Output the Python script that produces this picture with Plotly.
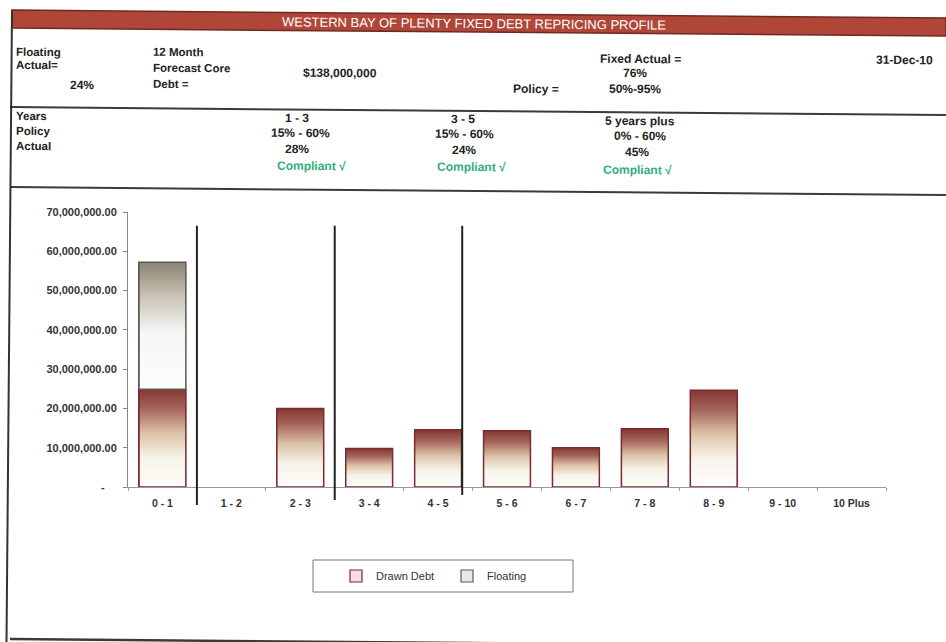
import plotly.graph_objects as go

# ---------------- data ----------------
CATEGORIES = ["0 - 1", "1 - 2", "2 - 3", "3 - 4", "4 - 5", "5 - 6",
              "6 - 7", "7 - 8", "8 - 9", "9 - 10", "10 Plus"]
DRAWN_DEBT = [24.9e6, 0, 20.0e6, 9.8e6, 14.6e6, 14.3e6, 10.0e6, 14.8e6, 24.6e6, 0, 0]
FLOATING = [32.3e6, 0, 0, 0, 0, 0, 0, 0, 0, 0, 0]
Y_TICKS = [0, 10e6, 20e6, 30e6, 40e6, 50e6, 60e6, 70e6]
Y_TICK_LABELS = ["-\u00a0\u00a0\u00a0\u00a0", "10,000,000.00", "20,000,000.00", "30,000,000.00",
                 "40,000,000.00", "50,000,000.00", "60,000,000.00", "70,000,000.00"]
# boundaries of the policy year bands (0-1 | 1-3 | 3-5 | 5+), drawn by hand on the sheet
BAND_BOUNDARIES = [0.5, 2.5, 4.35]
BAND_LINE_TOP = 66.5e6

TITLE = "WESTERN BAY OF PLENTY FIXED DEBT REPRICING PROFILE"
SERIES_NAMES = ["Drawn Debt", "Floating"]

# ---------------- geometry ----------------
W, H = 946, 642
ML, MR, MT, MB = 128, 60, 212, 155
PW, PH = W - ML - MR, H - MT - MB
BAR_W = 0.68
TILT = 0.0085

def xp(px):
    return (px - ML) / PW

def yp(py):
    return (H - MB - py) / PH

idx = list(range(len(CATEGORIES)))
X_RANGE = [-0.5, len(CATEGORIES) - 0.5]
Y_RANGE = [0, 70e6]

DRAWN_SCALE = [[0.0, "#fdfdfb"], [0.3, "#f6f3e8"], [0.55, "#dcc2a8"],
               [0.8, "#a5645a"], [1.0, "#823830"]]
FLOAT_SCALE = [[0.0, "#fdfdfd"], [0.45, "#f3f7f6"], [0.72, "#cbc6b6"], [1.0, "#8a8474"]]
DRAWN_LINE = "#7a2a33"
FLOAT_LINE = "#5f5a55"

def nz(vals):
    return [v if v else None for v in vals]

fig = go.Figure()

# legend / data bars (hidden underneath gradient fills)
fig.add_trace(go.Bar(x=idx, y=nz(DRAWN_DEBT), name=SERIES_NAMES[0], width=BAR_W,
                     marker=dict(color="#f2dede", line=dict(color=DRAWN_LINE, width=1.2))))
fig.add_trace(go.Bar(x=idx, y=nz(FLOATING), name=SERIES_NAMES[1], width=BAR_W,
                     marker=dict(color="#e8e8e4", line=dict(color=FLOAT_LINE, width=1.2))))

# gradient-filled bar bodies
for i in idx:
    segs = [(0, DRAWN_DEBT[i], DRAWN_SCALE, DRAWN_LINE),
            (DRAWN_DEBT[i], DRAWN_DEBT[i] + FLOATING[i], FLOAT_SCALE, FLOAT_LINE)]
    for base, top, scale, lc in segs:
        if top - base <= 0:
            continue
        x0, x1 = i - BAR_W / 2, i + BAR_W / 2
        fig.add_trace(go.Scatter(
            x=[x0, x1, x1, x0, x0], y=[base, base, top, top, base],
            mode="lines", fill="toself",
            fillgradient=dict(type="vertical", colorscale=scale, start=base, stop=top),
            line=dict(color=lc, width=1.5), showlegend=False, hoverinfo="skip"))

shapes = []
# band separator lines
for k, b in enumerate(BAND_BOUNDARIES):
    xb = (b - X_RANGE[0]) / (X_RANGE[1] - X_RANGE[0])
    shapes.append(dict(type="line", xref="paper", yref="paper",
                       x0=xb, x1=xb, y0=BAND_LINE_TOP / Y_RANGE[1], y1=yp(505 - 5 * k),
                       line=dict(color="#222", width=2)))

def tl(x, y0):
    return y0 + TILT * x

# header band
hx0, hx1 = 12, 946
path = "M {},{} L {},{} L {},{} L {},{} Z".format(
    xp(hx0), yp(tl(hx0, 10)), xp(hx1), yp(tl(hx1, 10)),
    xp(hx1), yp(tl(hx1, 28)), xp(hx0), yp(tl(hx0, 28)))
shapes.append(dict(type="path", xref="paper", yref="paper", path=path,
                   fillcolor="#b04638", line=dict(color="#6e2a22", width=1.5)))
# horizontal rules
for y0, wd in [(107, 2), (187, 2), (639, 2.5)]:
    shapes.append(dict(type="line", xref="paper", yref="paper",
                       x0=xp(10), x1=xp(946), y0=yp(tl(10, y0)), y1=yp(tl(946, y0)),
                       line=dict(color="#3a3a3a", width=wd)))
# left border
shapes.append(dict(type="line", xref="paper", yref="paper",
                   x0=xp(12), x1=xp(6.5), y0=yp(10), y1=yp(642),
                   line=dict(color="#333", width=2)))
# legend box
shapes.append(dict(type="rect", xref="paper", yref="paper",
                   x0=xp(313), x1=xp(573), y0=yp(560), y1=yp(592),
                   line=dict(color="#777", width=1), fillcolor="rgba(0,0,0,0)"))

ann = []
FAM = "Liberation Sans, Arial, sans-serif"
BOLD = dict(family=FAM, size=12, color="#222", weight="bold")
SMALL = dict(family=FAM, size=11.5, color="#222", weight="bold")
GREEN = dict(family=FAM, size=12, color="#2fae7c", weight="bold")

def add(text, x, y, anchor="left", font=BOLD):
    ann.append(dict(text=text, xref="paper", yref="paper", x=xp(x), y=yp(y),
                    xanchor=anchor, yanchor="middle", showarrow=False, font=font,
                    textangle=0.5))

ann.append(dict(text=TITLE, xref="paper", yref="paper", x=xp(474), y=yp(23),
                xanchor="center", yanchor="middle", showarrow=False, textangle=0.5,
                font=dict(family=FAM, size=13, color="#ffffff")))

add("Floating", 14, 52, font=SMALL)
add("Actual=", 14, 65, font=SMALL)
add("24%", 68, 85)
add("12 Month", 151, 52, font=SMALL)
add("Forecast Core", 151, 68, font=SMALL)
add("Debt =", 151, 84, font=SMALL)
add("$138,000,000", 301, 73)
add("Fixed Actual =", 598, 59)
add("76%", 635, 73, "center")
add("Policy =", 511, 89)
add("50%-95%", 635, 89, "center")
add("31-Dec-10", 874, 60)

add("Years", 14, 116, font=SMALL)
add("Policy", 14, 131, font=SMALL)
add("Actual", 14, 146, font=SMALL)
add("1 - 3", 297, 118, "center")
add("15% - 60%", 300, 133, "center")
add("28%", 297, 149, "center")
add("Compliant \u221a", 311, 166, "center", GREEN)
add("3 - 5", 463, 119, "center")
add("15% - 60%", 464, 134, "center")
add("24%", 464, 150, "center")
add("Compliant \u221a", 471, 167, "center", GREEN)
add("5 years plus", 640, 121, "center")
add("0% - 60%", 640, 136, "center")
add("45%", 637, 152, "center")
add("Compliant \u221a", 637, 170, "center", GREEN)

YTICKFONT = dict(family=FAM, size=11, color="#333", weight="bold")
XTICKFONT = dict(family=FAM, size=10.5, color="#333", weight="bold")

fig.update_layout(
    width=W, height=H,
    margin=dict(l=ML, r=MR, t=MT, b=MB, autoexpand=False),
    paper_bgcolor="#ffffff", plot_bgcolor="#ffffff",
    barmode="stack", bargap=0.32,
    showlegend=True,
    legend=dict(orientation="h", x=xp(336), y=yp(576), xanchor="left", yanchor="middle",
                traceorder="normal", bgcolor="rgba(0,0,0,0)", borderwidth=0,
                entrywidth=66, font=dict(family=FAM, size=11, color="#333")),
    xaxis=dict(range=X_RANGE, tickvals=idx, ticktext=CATEGORIES, showgrid=False,
               zeroline=False, showline=True, linecolor="#999", linewidth=1,
               ticks="", tickfont=XTICKFONT, ticklabelstandoff=6,
               minor=dict(tick0=0.5, dtick=1, ticks="outside", ticklen=3,
                          tickcolor="#999", showgrid=False)),
    yaxis=dict(range=Y_RANGE, tickvals=Y_TICKS, ticktext=Y_TICK_LABELS, showgrid=False,
               zeroline=False, showline=True, linecolor="#888", linewidth=1,
               ticks="outside", ticklen=4, tickcolor="#888", tickfont=YTICKFONT,
               ticklabelstandoff=4),
    shapes=shapes, annotations=ann,
)

fig.write_html("out.html")
